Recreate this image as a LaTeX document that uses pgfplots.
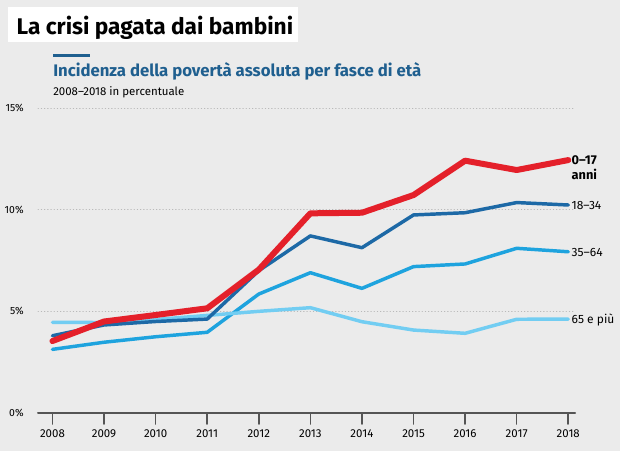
\documentclass[border=0pt]{standalone}
\usepackage{fontspec}
\setmainfont{Fira Sans}
\usepackage{pgfplots}
\pgfplotsset{compat=1.18}
\definecolor{bg}{HTML}{EBEBEB}
\definecolor{subcol}{HTML}{1F5F8F}
\definecolor{cred}{HTML}{E4202A}
\definecolor{cdark}{HTML}{1D69A6}
\definecolor{cmid}{HTML}{1EA3DE}
\definecolor{clight}{HTML}{72CDF2}
\definecolor{axgray}{HTML}{555555}
\begin{document}
\begin{tikzpicture}
\fill[bg] (0pt,0pt) rectangle (465pt,-338.25pt);
\fill[white] (6pt,-5.25pt) rectangle (223.5pt,-31.5pt);
\node[anchor=base west, inner sep=0, font=\fontsize{17}{17}\selectfont\bfseries] at (12.3pt,-25.5pt) {La crisi pagata dai bambini};
\draw[subcol, line width=2.25pt] (39.75pt,-41.25pt) -- (67.5pt,-41.25pt);
\node[anchor=base west,inner sep=0,font=\fontsize{12.55}{13}\selectfont\bfseries,text=subcol] at (39.75pt,-57pt) {Incidenza della povertà assoluta per fasce di età};
\node[anchor=base west,inner sep=0,font=\fontsize{8.6}{9}\selectfont] at (39.75pt,-71.25pt) {2008–2018 in percentuale};
\begin{axis}[
  at={(28.5pt,-309.75pt)}, anchor=south west,
  scale only axis, width=402.75pt, height=228.75pt,
  xmin=2007.72, xmax=2018.13, ymin=0, ymax=15,
  clip=false,
  axis x line*=bottom, axis y line*=left,
  x axis line style={-, draw=axgray, line width=1.5pt},
  y axis line style={draw=none},
  xtick={2008,...,2018},
  xticklabel style={/pgf/number format/1000 sep={}, font=\fontsize{8.6}{9}\selectfont, yshift=-1pt},
  x tick style={draw=axgray, line width=1.2pt},
  tick align=outside,
  major tick length=8.25pt,
  ytick={0,5,10,15},
  yticklabel={\pgfmathprintnumber{\tick}\%},
  yticklabel style={font=\fontsize{7.8}{8}\selectfont, xshift=1pt},
  y tick style={draw=none},
  ymajorgrids,
  grid style={gray!55, dotted, line width=0.6pt},
  /pgf/number format/assume math mode=true,
  line join=round, line cap=round,
]
\addplot[cmid, line width=2.6pt] coordinates {(2008,3.13)(2009,3.48)(2010,3.75)(2011,3.97)(2012,5.85)(2013,6.9)(2014,6.13)(2015,7.2)(2016,7.33)(2017,8.1)(2018,7.93)};
\addplot[clight, line width=2.6pt] coordinates {(2008,4.46)(2009,4.45)(2010,4.6)(2011,4.8)(2012,5.0)(2013,5.18)(2014,4.49)(2015,4.08)(2016,3.92)(2017,4.61)(2018,4.62)};
\addplot[cdark, line width=2.6pt] coordinates {(2008,3.8)(2009,4.33)(2010,4.5)(2011,4.62)(2012,7.0)(2013,8.71)(2014,8.13)(2015,9.74)(2016,9.85)(2017,10.35)(2018,10.23)};
\addplot[cred, line width=4.5pt] coordinates {(2008,3.54)(2009,4.5)(2010,4.82)(2011,5.15)(2012,7.05)(2013,9.82)(2014,9.85)(2015,10.72)(2016,12.41)(2017,11.95)(2018,12.44)};
\node[anchor=west, inner sep=0, align=left, font=\fontsize{9.6}{11.2}\selectfont\bfseries] at (axis cs:2018.06,12.08) {0–17\\anni};
\node[anchor=west, inner sep=0, font=\fontsize{9}{11}\selectfont] at (axis cs:2018.06,10.2) {18–34};
\node[anchor=west, inner sep=0, font=\fontsize{9}{11}\selectfont] at (axis cs:2018.06,7.9) {35–64};
\node[anchor=west, inner sep=0, font=\fontsize{9}{11}\selectfont] at (axis cs:2018.06,4.6) {65 e più};
\end{axis}
\end{tikzpicture}
\end{document}
